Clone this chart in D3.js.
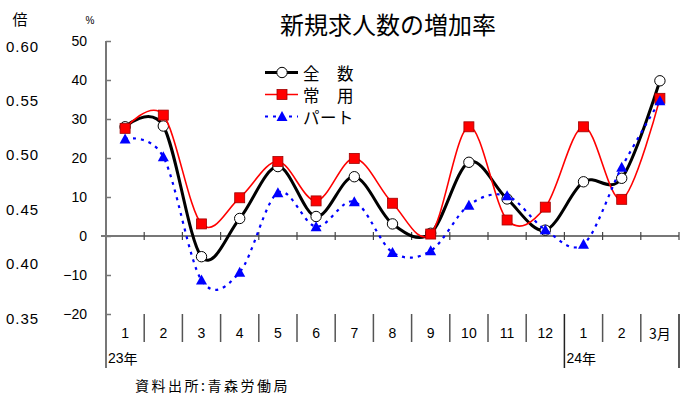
<!DOCTYPE html>
<html>
<head>
<meta charset="utf-8">
<script src="https://cdn.jsdelivr.net/npm/d3@7"></script>
<style>
  html, body { margin: 0; padding: 0; background: #fff; }
  svg { display: block; }
  text { font-family: "Liberation Sans", Arial, sans-serif; fill: #000; }
  .jp { font-family: "Noto Sans CJK JP", "Noto Sans", sans-serif; }
</style>
</head>
<body>
<svg id="chart" width="682" height="394"></svg>
<script>
// Month labels along the bottom
const months = ["1", "2", "3", "4", "5", "6", "7", "8", "9", "10", "11", "12", "1", "2", "3月"];
// Year labels: [index of month, text]
const years = [[0, "23年"], [12, "24年"]];
// Year-on-year growth of new job openings (%)
const totalVals   = [28.0, 28.2, -5.3, 4.5, 17.8, 5.0, 15.2, 3.1, 0.7, 18.9, 9.5, 1.5, 13.9, 14.8, 39.8];
const regularVals = [27.6, 31.0, 3.1, 9.8, 19.1, 9.0, 19.9, 8.4, 0.5, 28.0, 4.1, 7.4, 28.0, 9.4, 35.3];
const partVals    = [24.9, 20.3, -11.3, -9.3, 11.1, 2.4, 8.8, -4.2, -3.8, 7.9, 10.3, 1.6, -2.1, 17.6, 34.7];
// Axis tick labels
const pctTicks = [-20, -10, 0, 10, 20, 30, 40, 50];
const ratioLabels = ["0.60", "0.55", "0.50", "0.45", "0.40", "0.35"];
const seriesNames = ["全　数", "常　用", "パート"];

const svg = d3.select("#chart");

const x = d3.scaleBand().domain(d3.range(months.length)).range([106, 679]).padding(0);
const y = d3.scaleLinear().domain([-20, 50]).range([314, 41]);
const cx = i => x(i) + x.bandwidth() / 2;

// Title
svg.append("text").attr("class", "jp")
  .attr("x", 388).attr("y", 23)
  .attr("text-anchor", "middle").attr("dominant-baseline", "central")
  .attr("font-size", 24).text("新規求人数の増加率");

// Unit labels
svg.append("text").attr("class", "jp").attr("x", 20).attr("y", 18)
  .attr("text-anchor", "middle").attr("dominant-baseline", "central")
  .attr("font-size", 15).text("倍");
svg.append("text").attr("x", 90).attr("y", 20)
  .attr("text-anchor", "middle").attr("dominant-baseline", "central")
  .attr("font-size", 10).text("%");

// Ratio labels (倍) on the far left
const ratioY = d3.scalePoint().domain(ratioLabels).range([46, 318]);
svg.append("g").selectAll("text").data(ratioLabels).join("text")
  .attr("x", 6).attr("y", d => ratioY(d))
  .attr("dominant-baseline", "central")
  .attr("font-size", 15).attr("letter-spacing", 1)
  .text(d => d);

// Percent axis with inward ticks
const yAxis = d3.axisLeft(y).tickValues(pctTicks).tickSizeInner(-5).tickSizeOuter(0).tickPadding(19);
const gy = svg.append("g").attr("transform", "translate(106,0)").call(yAxis);
gy.select(".domain").remove();
gy.selectAll(".tick line").attr("stroke", "#777").attr("stroke-width", 1.5);
gy.selectAll(".tick text").attr("font-size", 14).attr("font-family", "Liberation Sans, Arial, sans-serif").attr("fill", "#000");

// Left axis line, extended down through the category table
svg.append("line").attr("x1", 106).attr("x2", 106).attr("y1", 41).attr("y2", 368)
  .attr("stroke", "#777").attr("stroke-width", 2);

// Zero line with ticks at month boundaries
svg.append("line").attr("x1", 101).attr("x2", 679).attr("y1", y(0)).attr("y2", y(0))
  .attr("stroke", "#777").attr("stroke-width", 2);
svg.append("g").selectAll("line").data(d3.range(1, months.length + 1)).join("line")
  .attr("x1", i => i < months.length ? x(i) : x.range()[1])
  .attr("x2", i => i < months.length ? x(i) : x.range()[1])
  .attr("y1", y(0) - 4).attr("y2", y(0) + 4)
  .attr("stroke", "#444").attr("stroke-width", 1.2);

// Category table separators
const bounds = d3.range(1, months.length + 1);
const yearStarts = years.map(d => d[0]);
svg.append("g").selectAll("line").data(bounds).join("line")
  .attr("x1", i => i < months.length ? x(i) : x.range()[1])
  .attr("x2", i => i < months.length ? x(i) : x.range()[1])
  .attr("y1", 314)
  .attr("y2", i => (i === months.length || yearStarts.includes(i)) ? 368 : 342)
  .attr("stroke", i => (i === months.length || yearStarts.includes(i)) ? "#222" : "#555")
  .attr("stroke-width", 1.5);

// Month labels
svg.append("g").selectAll("text").data(months).join("text")
  .attr("class", (d, i) => i === months.length - 1 ? "jp" : null)
  .attr("x", (d, i) => cx(i)).attr("y", 333)
  .attr("text-anchor", "middle").attr("dominant-baseline", "central")
  .attr("font-size", 14).text(d => d);

// Year labels
svg.append("g").selectAll("text").data(years).join("text")
  .attr("x", d => x(d[0]) + 2).attr("y", 358)
  .attr("dominant-baseline", "central")
  .attr("font-size", 14)
  .each(function(d) {
    const t = d3.select(this);
    t.append("tspan").text(d[1].slice(0, 2));
    t.append("tspan").attr("font-family", "Noto Sans CJK JP, sans-serif").text(d[1].slice(2));
  });

// Source note
svg.append("text").attr("class", "jp").attr("x", 135).attr("y", 385)
  .attr("dominant-baseline", "central").attr("font-size", 14).attr("letter-spacing", 2.5)
  .text("資料出所:青森労働局");

// Series lines and markers
const line = d3.line().x((d, i) => cx(i)).y(d => y(d)).curve(d3.curveCardinal.tension(0));

function drawSeries(vals, stroke, width, dash, marker) {
  const g = svg.append("g");
  g.append("path").datum(vals).attr("d", line)
    .attr("fill", "none").attr("stroke", stroke).attr("stroke-width", width)
    .attr("stroke-dasharray", dash);
  marker(g.selectAll("g").data(vals).join("g")
    .attr("transform", (d, i) => `translate(${cx(i)},${y(d)})`));
}

const circleMark = sel => sel.append("circle").attr("r", 5.2)
  .attr("fill", "#fff").attr("stroke", "#000").attr("stroke-width", 1);
const squareMark = sel => sel.append("rect").attr("x", -5).attr("y", -5).attr("width", 10).attr("height", 10)
  .attr("fill", "#ff0000").attr("stroke", "#a00000").attr("stroke-width", 0.8);
const triMark = sel => sel.append("path").attr("d", "M0,-5.5L5.5,4.5L-5.5,4.5Z")
  .attr("fill", "#0000ff");

drawSeries(totalVals, "#000", 3, null, circleMark);
drawSeries(regularVals, "#ff0000", 1.6, null, squareMark);
drawSeries(partVals, "#0000ff", 2.2, "3,5", triMark);

// Legend
const legend = [
  { name: seriesNames[0], stroke: "#000", width: 3, dash: null, mark: circleMark, yy: 72.5 },
  { name: seriesNames[1], stroke: "#ff0000", width: 1.6, dash: null, mark: squareMark, yy: 94.5 },
  { name: seriesNames[2], stroke: "#0000ff", width: 2.2, dash: "3,5", mark: triMark, yy: 116.5 }
];
legend.forEach(d => {
  const g = svg.append("g").attr("transform", `translate(0,${d.yy})`);
  g.append("line").attr("x1", 265).attr("x2", 298).attr("y1", 0).attr("y2", 0)
    .attr("stroke", d.stroke).attr("stroke-width", d.width).attr("stroke-dasharray", d.dash);
  d.mark(g.append("g").attr("transform", "translate(282,0)"));
  g.append("text").attr("class", "jp").attr("x", 303).attr("y", 0)
    .attr("dominant-baseline", "central").attr("font-size", 16.5).attr("letter-spacing", 0.5)
    .text(d.name);
});
</script>
</body>
</html>
